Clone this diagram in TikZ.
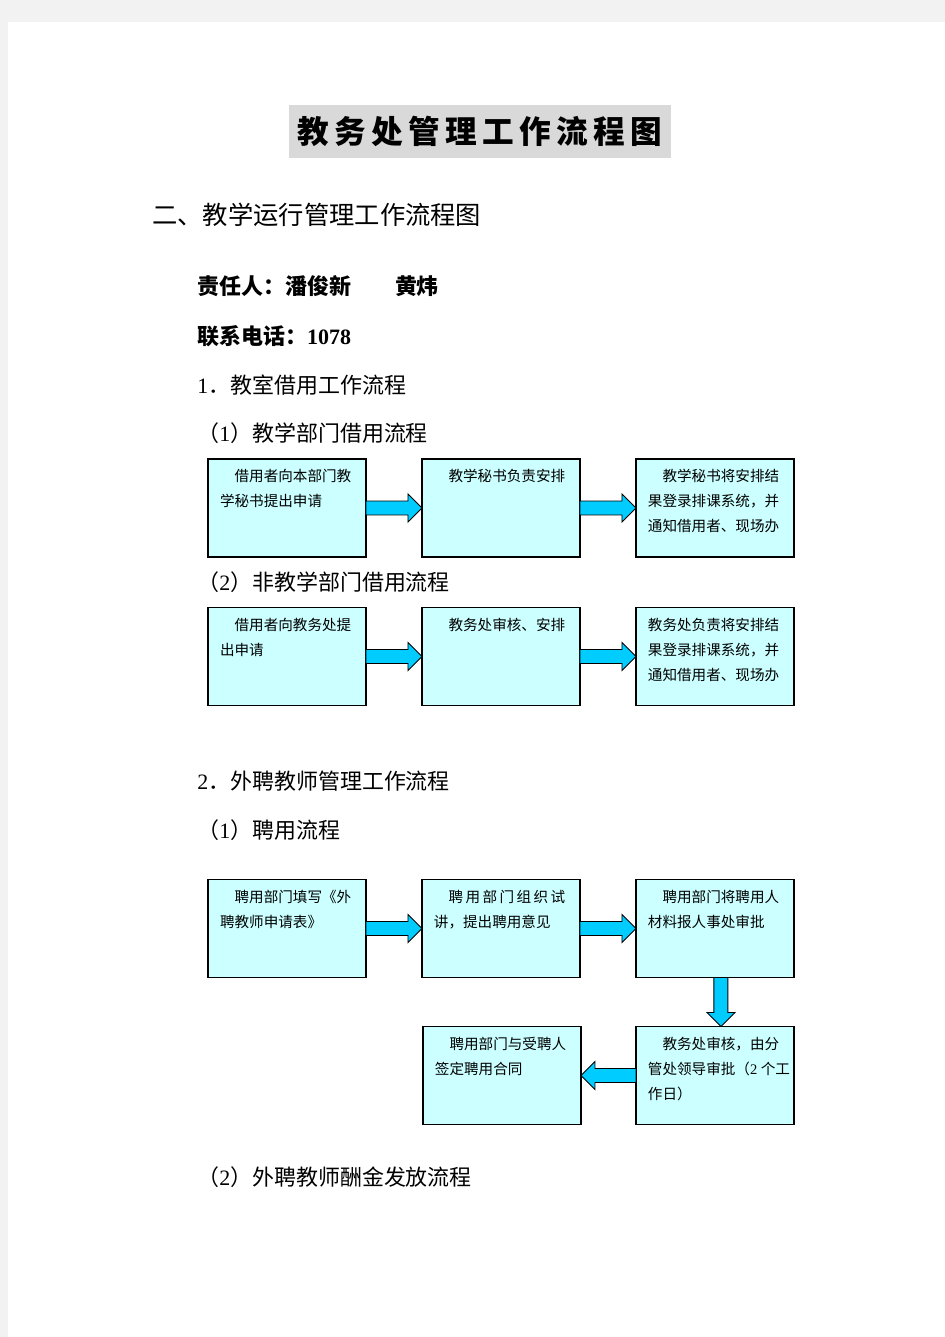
\documentclass[tikz,border=0pt]{standalone}
\usepackage{fontspec}
\setmainfont{Liberation Serif}
\newfontfamily\cjk{Noto Sans CJK SC}
\newfontfamily\cjktitle[LetterSpace=17]{Noto Sans CJK SC}
\usetikzlibrary{positioning}
\usetikzlibrary{calc}
\definecolor{boxcyan}{RGB}{204,255,255}
\definecolor{arrowcyan}{RGB}{0,204,255}
\newcommand{\lat}[1]{{\rmfamily #1}}
\newcommand{\boxtext}[1]{\parbox[c][1.96cm][t]{2.68cm}{\vspace*{6pt}#1}}
\newcommand{\ind}{\hspace*{1em}}
% block arrow from #1 to #2
\newcommand{\flowarrow}[2]{%
  \coordinate (hb) at ($(#2)!0.28cm!(#1)$);
  \draw[arrowshape] ($(#1)!0.14cm!90:(#2)$) -- ($(hb)!0.14cm!90:(#2)$)
    -- ($(hb)!0.28cm!90:(#2)$) -- (#2) -- ($(hb)!0.28cm!-90:(#2)$)
    -- ($(hb)!0.14cm!-90:(#2)$) -- ($(#1)!0.14cm!-90:(#2)$) -- cycle;}

\begin{document}
\begin{tikzpicture}[x=0.02cm, y=-0.02cm,
    flowbox/.style={draw, line width=0.7pt, fill=boxcyan, minimum width=3.16cm, minimum height=1.96cm, inner sep=0pt, outer sep=0pt, font=\cjk\fontsize{8.3pt}{14.2pt}\selectfont},
    arrowshape/.style={draw=black, line width=0.5pt, fill=arrowcyan, line join=miter},
    heading/.style={anchor=west, inner sep=0pt, font=\cjk\fontsize{12.5pt}{14pt}\selectfont},
    titlebox/.style={fill=black!15, minimum width=7.64cm, minimum height=1.06cm, inner sep=0pt, font=\cjktitle\fontsize{18pt}{20pt}\selectfont\bfseries},
    ]

    \useasboundingbox (0,0) rectangle (945,1337);
    \fill[black!5] (0,0) rectangle (945,1337);
    \fill[white] (8,22) rectangle (945,1337);

    \node[titlebox] (title) at (480,131.5) {教务处管理工作流程图};
    \node[heading, font=\cjk\fontsize{14.4pt}{16pt}\selectfont] (part) at (152,215) {二、教学运行管理工作流程图};
    \node[heading, font=\cjk\fontsize{12.5pt}{14pt}\selectfont\bfseries] (resp) at (197,286) {责任人：潘俊新　　黄炜};
    \node[heading, font=\cjk\fontsize{12.5pt}{14pt}\selectfont\bfseries] (tel) at (197,336) {联系电话：\lat{1078}};

    % 1. classroom borrowing
    \node[heading] (sec1) at (197,385) {\lat{1}．教室借用工作流程};
    \node[heading] (sec1a) at (197,433) {（\lat{1}）教学部门借用流程};
    \node[flowbox] (a1) at (287,508) {\boxtext{\ind 借用者向本部门教\\学秘书提出申请}};
    \node[flowbox, right=1.12cm of a1] (a2) {\boxtext{\ind 教学秘书负责安排}};
    \node[flowbox, right=1.12cm of a2] (a3) {\boxtext{\ind 教学秘书将安排结\\果登录排课系统，并\\通知借用者、现场办}};
    \flowarrow{a1.east}{a2.west}
    \flowarrow{a2.east}{a3.west}

    \node[heading] (sec1b) at (197,582) {（\lat{2}）非教学部门借用流程};
    \node[flowbox] (b1) at (287,656.5) {\boxtext{\ind 借用者向教务处提\\出申请}};
    \node[flowbox, right=1.12cm of b1] (b2) {\boxtext{\ind 教务处审核、安排}};
    \node[flowbox, right=1.12cm of b2] (b3) {\boxtext{教务处负责将安排结\\果登录排课系统，并\\通知借用者、现场办}};
    \flowarrow{b1.east}{b2.west}
    \flowarrow{b2.east}{b3.west}

    % 2. external teachers
    \node[heading] (sec2) at (197,781) {\lat{2}．外聘教师管理工作流程};
    \node[heading] (sec2a) at (197,830) {（\lat{1}）聘用流程};
    \node[flowbox] (c1) at (287,928.5) {\boxtext{\ind 聘用部门填写《外\\聘教师申请表》}};
    \node[flowbox, right=1.12cm of c1] (c2) {\boxtext{\ind 聘\,用\,部\,门\,组\,织\,试\\讲，提出聘用意见}};
    \node[flowbox, right=1.12cm of c2] (c3) {\boxtext{\ind 聘用部门将聘用人\\材料报人事处审批}};
    \node[flowbox, below=0.98cm of c3] (c5) {\boxtext{\ind 教务处审核，由分\\\mbox{管处领导审批（\lat{2}\kern2pt 个工}\\作日）}};
    \node[flowbox, left=1.1cm of c5] (c4) {\boxtext{\ind 聘用部门与受聘人\\签定聘用合同}};
    \flowarrow{c1.east}{c2.west}
    \flowarrow{c2.east}{c3.west}
    \coordinate (dtop) at ($(c3.south)+(6,0)$);
    \coordinate (dbot) at ($(c5.north)+(6,0)$);
    \flowarrow{dtop}{dbot}
    \flowarrow{c5.west}{c4.east}

    \node[heading] (sec2b) at (197,1177) {（\lat{2}）外聘教师酬金发放流程};
\end{tikzpicture}
\end{document}
